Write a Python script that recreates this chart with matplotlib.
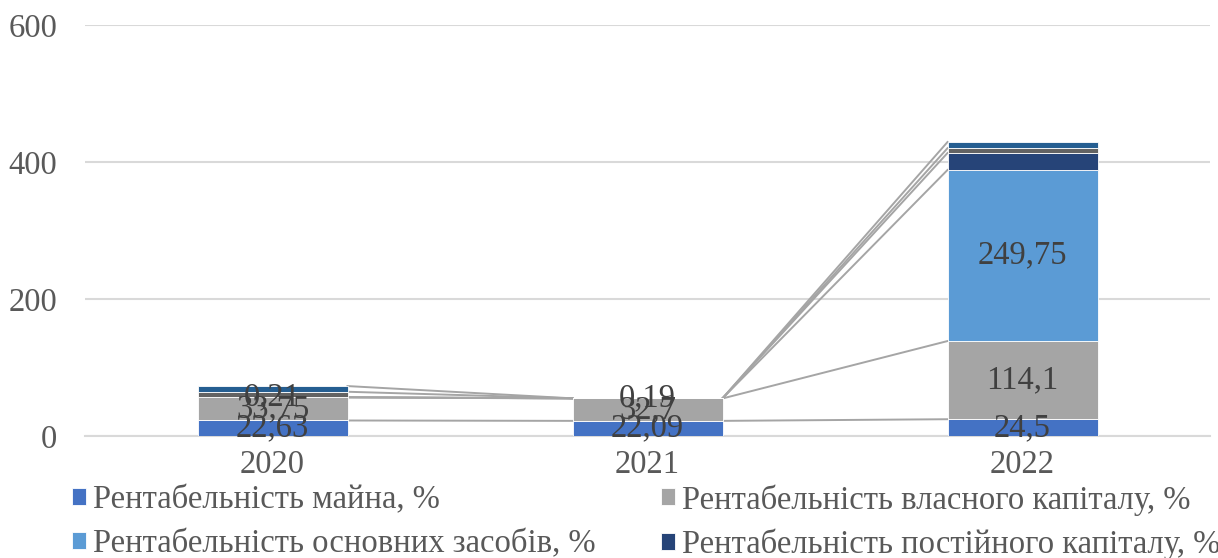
import numpy as np
import matplotlib.pyplot as plt

plt.rcParams['font.family'] = ['Liberation Serif', 'DejaVu Serif']

years = ['2020', '2021', '2022']

# стовпчики знизу вгору
rent_mayna = [22.63, 22.09, 24.5]
rent_vlas_kap = [33.75, 32.7, 114.1]
rent_osn_zas = [0.21, 0.19, 249.75]
rent_post_kap = [0.0, 0.0, 24.8]
rent_dod_1 = [8.0, 0.0, 7.0]
rent_dod_2 = [8.3, 0.0, 9.0]

series = [rent_mayna, rent_vlas_kap, rent_osn_zas, rent_post_kap, rent_dod_1, rent_dod_2]
names = ['Рентабельність майна, %', 'Рентабельність власного капіталу, %',
         'Рентабельність основних засобів, %', 'Рентабельність постійного капіталу, %',
         None, None]
colors = ['#4472C4', '#A5A5A5', '#5B9BD5', '#264478', '#636363', '#255E91']
show_labels = [True, True, True, False, False, False]

fig = plt.figure(figsize=(12.18, 5.58), dpi=100)
ax = fig.add_axes([85 / 1218, 1 - 436 / 558, 1125 / 1218, 411 / 558])

x = np.arange(len(years))
width = 0.4
bottom = np.zeros(len(years))
for vals, name, col, lab in zip(series, names, colors, show_labels):
    vals = np.array(vals)
    top = bottom + vals
    ax.bar(x, vals, width, bottom=bottom, color=col, label=name,
           edgecolor='white', linewidth=0.6, zorder=3)
    # лінії ряду між стовпчиками
    for i in range(len(years) - 1):
        ax.plot([x[i] + width / 2, x[i + 1] - width / 2], [top[i], top[i + 1]],
                color='#A5A5A5', lw=1.4, zorder=2)
    if lab:
        for xi, b, v in zip(x, bottom, vals):
            ax.text(xi, b + v / 2, f'{v:g}'.replace('.', ','), ha='center', va='center',
                    fontsize=23.5, color='#404040', zorder=5)
    bottom = top

ax.set_xlim(-0.5, 2.5)
ax.set_ylim(0, 600)
ax.set_yticks([0, 200, 400, 600])
ax.set_xticks(x)
ax.set_xticklabels(years)
ax.yaxis.grid(True, color='#D9D9D9', lw=1.5, zorder=0)
ax.set_axisbelow(True)
for s in ['top', 'right', 'left']:
    ax.spines[s].set_visible(False)
ax.spines['bottom'].set_color('#D9D9D9')
ax.spines['bottom'].set_linewidth(1.5)
ax.tick_params(axis='both', length=0, labelsize=23.5, colors='#595959')
ax.tick_params(axis='y', pad=20)
ax.tick_params(axis='x', pad=10)

# легенда по рядках: 2 колонки
handles, labels = ax.get_legend_handles_labels()
order = [0, 2, 1, 3]
fig.legend([handles[i] for i in order], [labels[i] for i in order], ncol=2,
           loc='upper left', bbox_to_anchor=(72 / 1218, 1 - 484 / 558), frameon=False,
           fontsize=23.5, handlelength=0.42, handleheight=0.42, handletextpad=0.22,
           columnspacing=2.0, labelspacing=0.4, borderpad=0, borderaxespad=0,
           labelcolor='#595959')

fig.savefig('out.png', dpi=100)
